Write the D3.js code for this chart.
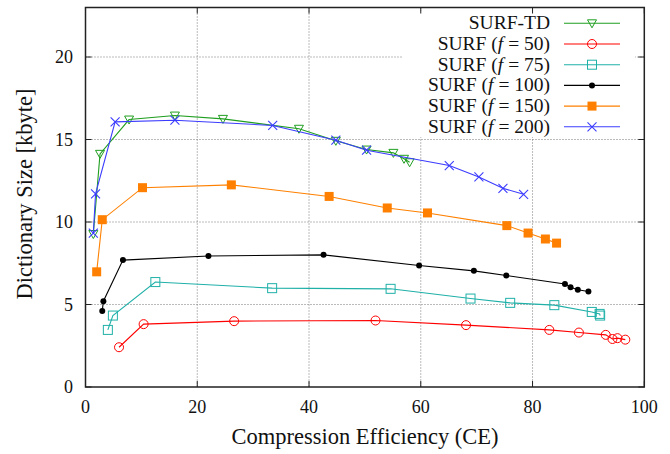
<!DOCTYPE html>
<html>
<head>
<meta charset="utf-8">
<script src="https://cdn.jsdelivr.net/npm/d3@7"></script>
</head>
<body style="margin:0">
<div id="chart"></div>
<script>
const width = 670;
const height = 454;
const fontFam = '"Liberation Serif"';

// data: [CE, dictionary size]
const surfTD = [[1.4,9.27],[2.6,14.13],[7.8,16.21],[16.0,16.45],[24.6,16.25],[38.2,15.65],[44.8,14.92],[50.3,14.39],[55.1,14.19],[57.0,13.83],[58.0,13.62]];
const surf50 = [[6.0,2.41],[10.4,3.81],[26.6,3.99],[51.9,4.03],[68.1,3.75],[83.0,3.46],[88.3,3.30],[93.1,3.16],[94.3,2.91],[95.2,2.96],[96.6,2.87]];
const surf75 = [[4.0,3.46],[4.9,4.33],[12.5,6.36],[33.4,5.99],[54.6,5.95],[68.9,5.36],[76.0,5.10],[83.9,4.96],[90.6,4.55],[92.0,4.43],[92.1,4.33]];
const surf100 = [[3.0,4.61],[3.2,5.20],[6.7,7.69],[22.0,7.94],[42.6,8.01],[59.7,7.36],[69.5,7.04],[75.3,6.76],[85.8,6.24],[86.8,6.05],[88.1,5.89],[90.0,5.79]];
const surf150 = [[2.0,6.98],[3.0,10.14],[10.2,12.08],[26.1,12.25],[43.6,11.55],[54.0,10.85],[61.2,10.55],[75.4,9.78],[79.2,9.33],[82.3,8.97],[84.3,8.72]];
const surf200 = [[1.4,9.33],[1.8,11.70],[5.3,16.07],[16.0,16.17],[33.5,15.85],[44.8,14.96],[50.3,14.35],[65.1,13.42],[70.4,12.73],[74.7,12.04],[78.4,11.68]];

const xTicks = [0, 20, 40, 60, 80, 100];
const yTicks = [0, 5, 10, 15, 20];

const series = [
  { name: 'SURF-TD', f: null, data: surfTD, color: '#1f9e1f', marker: 'tri' },
  { name: 'SURF', f: '50', data: surf50, color: '#ff0000', marker: 'circle' },
  { name: 'SURF', f: '75', data: surf75, color: '#1fb0a8', marker: 'square' },
  { name: 'SURF', f: '100', data: surf100, color: '#000000', marker: 'dot' },
  { name: 'SURF', f: '150', data: surf150, color: '#ff8000', marker: 'fsquare' },
  { name: 'SURF', f: '200', data: surf200, color: '#3c3cff', marker: 'cross' }
];

const plotLeft = 85.5, plotRight = 644.3, plotTop = 7.5, plotBottom = 387;

const svg = d3.select('#chart')
  .append('svg')
  .attr('width', width)
  .attr('height', height)
  .style('font-family', fontFam);

const x = d3.scaleLinear().domain([0, 100]).range([plotLeft, plotRight]);
const y = d3.scaleLinear().domain([0, 23]).range([plotBottom, plotTop]);

// grid
svg.append('g')
  .selectAll('line')
  .data(xTicks.slice(1, -1))
  .enter().append('line')
  .attr('x1', d => x(d)).attr('x2', d => x(d))
  .attr('y1', plotTop).attr('y2', plotBottom)
  .attr('stroke', '#777').attr('stroke-width', 1).attr('stroke-dasharray', '1,2');

svg.append('g')
  .selectAll('line')
  .data(yTicks.slice(1))
  .enter().append('line')
  .attr('x1', plotLeft).attr('x2', plotRight)
  .attr('y1', d => y(d)).attr('y2', d => y(d))
  .attr('stroke', '#777').attr('stroke-width', 1).attr('stroke-dasharray', '1,2');

// legend background hides the grid
svg.append('rect')
  .attr('x', 403).attr('y', 11)
  .attr('width', 232).attr('height', 126)
  .attr('fill', '#fff');

// tick marks, drawn inward on all four sides
const tickLines = svg.append('g').attr('stroke', '#222').attr('stroke-width', 1);
xTicks.forEach(v => {
  tickLines.append('line').attr('x1', x(v)).attr('x2', x(v)).attr('y1', plotBottom).attr('y2', plotBottom - 6);
  tickLines.append('line').attr('x1', x(v)).attr('x2', x(v)).attr('y1', plotTop).attr('y2', plotTop + 6);
});
yTicks.forEach(v => {
  tickLines.append('line').attr('x1', plotLeft).attr('x2', plotLeft + 6).attr('y1', y(v)).attr('y2', y(v));
  tickLines.append('line').attr('x1', plotRight).attr('x2', plotRight - 6).attr('y1', y(v)).attr('y2', y(v));
});

// tick labels
svg.append('g')
  .selectAll('text')
  .data(xTicks)
  .enter().append('text')
  .attr('x', d => x(d)).attr('y', 413)
  .attr('text-anchor', 'middle')
  .attr('font-size', 18)
  .style('font-family', fontFam)
  .attr('fill', '#111')
  .text(d => d);

svg.append('g')
  .selectAll('text')
  .data(yTicks)
  .enter().append('text')
  .attr('x', 73).attr('y', d => y(d) + 6)
  .attr('text-anchor', 'end')
  .attr('font-size', 18)
  .style('font-family', fontFam)
  .attr('fill', '#111')
  .text(d => d);

svg.append('rect')
  .attr('x', plotLeft).attr('y', plotTop)
  .attr('width', plotRight - plotLeft).attr('height', plotBottom - plotTop)
  .attr('fill', 'none').attr('stroke', '#222').attr('stroke-width', 1.5);

// axis titles
svg.append('text')
  .attr('x', 365).attr('y', 444)
  .attr('text-anchor', 'middle')
  .attr('font-size', 22.5)
  .style('font-family', fontFam)
  .attr('fill', '#111')
  .text('Compression Efficiency (CE)');

svg.append('text')
  .attr('transform', 'translate(32,194) rotate(-90)')
  .attr('text-anchor', 'middle')
  .attr('font-size', 22.5)
  .style('font-family', fontFam)
  .attr('fill', '#111')
  .text('Dictionary Size [kbyte]');

// markers
const drawMarker = (g, type, color, cx, cy) => {
  if (type === 'tri') {
    g.append('path')
      .attr('d', `M${cx - 4.5},${cy - 3.5}L${cx + 4.5},${cy - 3.5}L${cx},${cy + 4.5}Z`)
      .attr('fill', 'none').attr('stroke', color).attr('stroke-width', 1);
  } else if (type === 'circle') {
    g.append('circle').attr('cx', cx).attr('cy', cy).attr('r', 4.5)
      .attr('fill', 'none').attr('stroke', color).attr('stroke-width', 1);
  } else if (type === 'square') {
    g.append('rect').attr('x', cx - 4.5).attr('y', cy - 4.5).attr('width', 9).attr('height', 9)
      .attr('fill', 'none').attr('stroke', color).attr('stroke-width', 1);
  } else if (type === 'dot') {
    g.append('circle').attr('cx', cx).attr('cy', cy).attr('r', 3).attr('fill', color);
  } else if (type === 'fsquare') {
    g.append('rect').attr('x', cx - 4.5).attr('y', cy - 4.5).attr('width', 9).attr('height', 9)
      .attr('fill', color);
  } else if (type === 'cross') {
    g.append('path')
      .attr('d', `M${cx - 4.5},${cy - 4.5}L${cx + 4.5},${cy + 4.5}M${cx - 4.5},${cy + 4.5}L${cx + 4.5},${cy - 4.5}`)
      .attr('stroke', color).attr('stroke-width', 1.1);
  }
};

const line = d3.line().x(d => x(d[0])).y(d => y(d[1]));

series.forEach(s => {
  const g = svg.append('g');
  g.append('path')
    .datum(s.data)
    .attr('d', line)
    .attr('fill', 'none')
    .attr('stroke', s.color)
    .attr('stroke-width', 1.1);
  s.data.forEach(d => drawMarker(g, s.marker, s.color, x(d[0]), y(d[1])));
});

// legend
const legend = svg.append('g');
series.forEach((s, i) => {
  const ly = 23.3 + i * 20.7;
  const t = legend.append('text')
    .attr('x', 550).attr('y', ly + 6)
    .attr('text-anchor', 'end')
    .attr('font-size', 19.5)
    .style('font-family', fontFam)
    .attr('fill', '#111');
  if (s.f === null) {
    t.text(s.name);
  } else {
    t.append('tspan').text(s.name + ' (');
    t.append('tspan').style('font-style', 'italic').text('f');
    t.append('tspan').text(' = ' + s.f + ')');
  }
  legend.append('line')
    .attr('x1', 564).attr('x2', 620)
    .attr('y1', ly).attr('y2', ly)
    .attr('stroke', s.color).attr('stroke-width', 1.1);
  drawMarker(legend, s.marker, s.color, 592, ly);
});
</script>
</body>
</html>
